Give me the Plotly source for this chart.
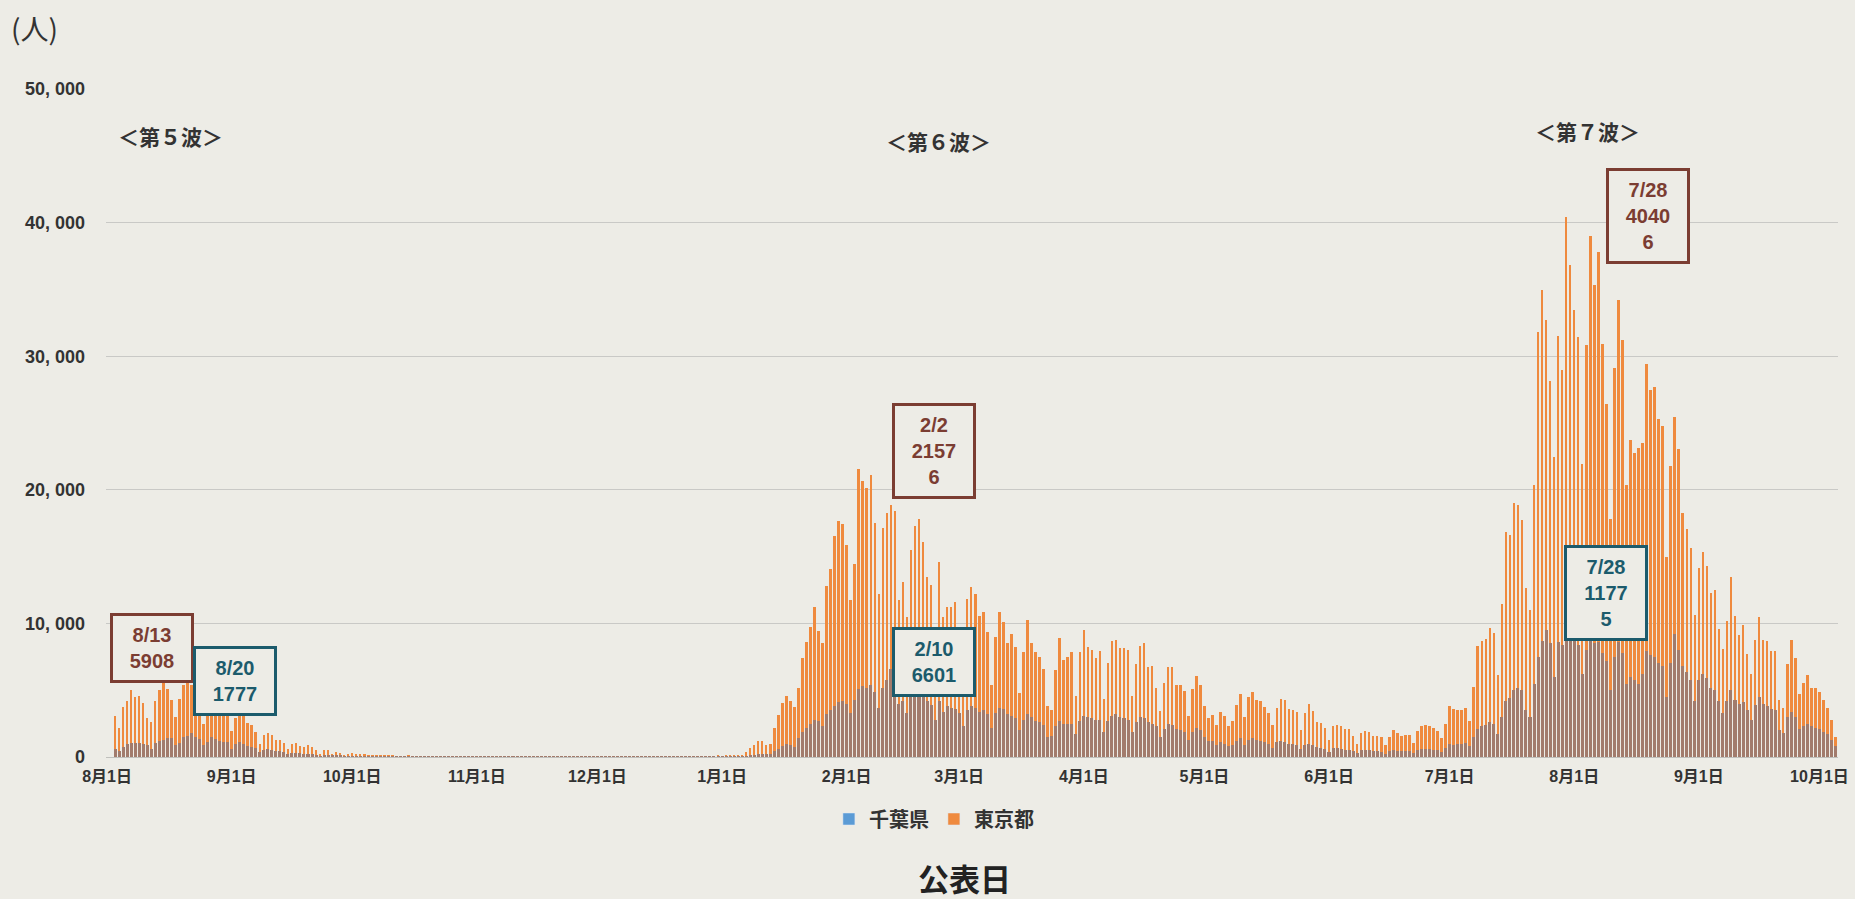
import datetime as dt
import plotly.graph_objects as go

# ---------------- data (daily announced cases) ----------------
start_date = "2021-08-01"

tokyo_2021_08 = [3058, 2195, 3709, 4166, 5042, 4515, 4566, 4066, 2884, 2612, 4200, 4989, 5908, 5094, 4295, 2962,
                 4377, 5386, 5534, 5405, 5074, 4392, 2447, 4220, 4228, 4704, 4227, 3581, 3081, 1915, 2909]
tokyo_2021_09 = [3168, 3099, 2539, 2362, 1853, 968, 1629, 1834, 1675, 1242, 1273, 1067, 611, 1004, 1052, 831,
                 782, 862, 717, 544, 253, 537, 531, 235, 383, 302, 154, 248, 267, 218]
tokyo_2021_10 = [200, 196, 161, 87, 149, 144, 138, 138, 82, 60, 49, 40, 77, 62, 72, 66, 40, 29, 36, 41, 36, 26,
                 32, 19, 17, 29, 36, 21, 30, 23, 22]
tokyo_2021_11 = [9, 29, 18, 17, 25, 24, 14, 7, 19, 20, 31, 21, 21, 21, 6, 11, 24, 19, 20, 23, 11, 8, 9, 14, 21,
                 14, 16, 20, 11, 9]
tokyo_2021_12 = [14, 16, 15, 26, 16, 13, 17, 18, 17, 20, 23, 24, 16, 19, 16, 17, 21, 29, 22, 15, 26, 27, 37, 42,
                 37, 37, 30, 46, 76, 64, 78]
tokyo_2022_01 = [79, 84, 103, 151, 390, 641, 922, 1224, 1223, 871, 962, 2198, 3124, 4051, 4561, 4172, 3719, 5185,
                 7377, 8638, 9699, 11227, 9468, 8503, 12813, 14086, 16538, 17631, 17433, 15895, 11751]
tokyo_2022_02 = [14445, 21576, 20679, 20106, 21122, 17526, 12214, 17113, 18287, 18891, 18400, 11750, 13075, 10450,
                 15500, 17325, 17825, 16075, 13500, 12900, 8500, 14575, 10500, 11200, 11200, 11575, 9000, 6000]
tokyo_2022_03 = [11825, 12700, 12200, 10575, 10825, 9325, 5375, 8950, 10875, 10075, 8525, 9200, 8200, 4825, 7875,
                 10250, 8500, 7825, 7450, 6575, 3825, 3500, 6500, 8900, 7275, 7450, 7875, 4575, 7875, 9525, 8200]
tokyo_2022_04 = [8025, 7375, 7900, 4325, 7000, 8700, 8750, 8125, 8125, 8025, 4575, 6950, 8275, 8550, 6750, 6775,
                 5200, 3450, 5575, 6750, 6700, 5400, 5375, 4950, 3075, 5075, 6075, 5375, 3825, 2950]
tokyo_2022_05 = [3160, 2400, 3360, 3040, 2320, 2690, 3860, 4730, 2990, 4480, 4860, 4280, 4160, 3780, 3310, 2370,
                 3690, 4360, 4230, 3610, 3490, 3340, 2040, 3290, 3980, 3410, 2610, 2540, 2170, 1290, 2340]
tokyo_2022_06 = [2420, 2340, 2070, 2070, 1570, 1000, 1790, 1920, 1840, 1540, 1540, 1490, 920, 1490, 1990, 1790,
                 1540, 1670, 1620, 1050, 1940, 2290, 2420, 2290, 2170, 1940, 1440, 2490, 3810, 3610]
tokyo_2022_07 = [3520, 3510, 3700, 2680, 5240, 8300, 8650, 8840, 9650, 9300, 6140, 11460, 16870, 16600, 19030,
                 18840, 17760, 12620, 11000, 20380, 31810, 34980, 32680, 28110, 22430, 31540, 28980, 40406, 36810,
                 33440, 31460]
tokyo_2022_08 = [21950, 30810, 38980, 35330, 37810, 30920, 26410, 17810, 29110, 34170, 31190, 20330, 23730, 22760,
                 23100, 23520, 29380, 27440, 27680, 25330, 24790, 14970, 21760, 25460, 23080, 18300, 17080, 15680,
                 10650, 14110, 15330]
tokyo_2022_09 = [14330, 12300, 12490, 9570, 8080, 10190, 13490, 10540, 9110, 9870, 7680, 6220, 8760, 10510, 8760,
                 8650, 7950, 7950, 4300, 3700, 6950, 8760, 7430, 4730, 5510, 6140, 5140, 5190, 4870, 4240]
tokyo_2022_10 = [3700, 2760, 1460]

chiba_2021_08 = [576, 462, 781, 1000, 1013, 1043, 1065, 1002, 897, 595, 1067, 1188, 1263, 1450, 1418, 930, 1027,
                 1460, 1573, 1777, 1498, 1359, 920, 1115, 1475, 1328, 1230, 1143, 1094, 622, 984]
chiba_2021_09 = [1097, 1000, 858, 766, 658, 364, 560, 588, 560, 452, 452, 380, 233, 275, 313, 281, 238, 225, 195,
                 137, 70, 141, 138, 79, 99, 83, 38, 64, 56, 49]
chiba_2021_10 = [45, 41, 30, 16, 35, 30, 29, 24, 22, 17, 12, 10, 15, 13, 14, 11, 9, 6, 8, 9, 7, 5, 6, 4, 3, 6, 7,
                 4, 6, 5, 4]
chiba_2021_11 = [2, 5, 3, 3, 4, 4, 2, 1, 3, 3, 5, 3, 3, 3, 1, 2, 4, 3, 3, 4, 2, 1, 2, 2, 3, 2, 3, 3, 2, 1]
chiba_2021_12 = [2, 3, 2, 4, 3, 2, 3, 3, 3, 4, 4, 4, 3, 3, 3, 3, 4, 5, 4, 3, 5, 5, 6, 7, 6, 6, 5, 8, 12, 11, 13]
chiba_2022_01 = [14, 15, 18, 26, 52, 97, 150, 230, 260, 200, 250, 480, 620, 800, 950, 900, 780, 1400, 1900, 2200,
                 2500, 2800, 2700, 2300, 3200, 3500, 3800, 4100, 4200, 4000, 3300]
chiba_2022_02 = [4300, 5100, 5300, 5200, 5400, 4900, 3700, 5200, 5800, 6601, 5600, 4000, 4200, 3300, 4600, 5000,
                 4900, 4600, 4200, 3900, 2800, 4200, 3400, 3800, 3700, 3600, 3300, 2300]
chiba_2022_03 = [3500, 3800, 3700, 3400, 3500, 3200, 2200, 3300, 3700, 3600, 3200, 3100, 2900, 2000, 2800, 3200,
                 3000, 2700, 2600, 2400, 1500, 1600, 2300, 2700, 2500, 2500, 2500, 1700, 2700, 3100, 3000]
chiba_2022_04 = [2900, 2800, 2800, 1900, 2700, 3100, 3200, 3000, 2900, 2800, 1900, 2600, 3000, 2900, 2600, 2500,
                 2300, 1500, 2100, 2500, 2400, 2100, 2000, 1900, 1300, 1900, 2200, 2000, 1500, 1200]
chiba_2022_05 = [1200, 900, 1100, 1000, 800, 900, 1200, 1400, 900, 1300, 1400, 1300, 1200, 1100, 1000, 700, 1100,
                 1200, 1100, 1000, 950, 900, 600, 900, 1000, 900, 750, 700, 600, 400, 650]
chiba_2022_06 = [650, 620, 560, 550, 450, 300, 500, 520, 500, 430, 420, 400, 260, 420, 520, 480, 430, 450, 430,
                 300, 520, 600, 630, 600, 560, 500, 380, 650, 950, 920]
chiba_2022_07 = [950, 1000, 1050, 800, 1500, 2100, 2300, 2400, 2600, 2500, 1700, 3000, 4200, 4400, 5000, 5200,
                 5000, 3500, 3000, 5500, 7500, 8700, 9500, 8500, 6000, 8600, 8400, 11775, 9300, 8800, 8400]
chiba_2022_08 = [6200, 8000, 9000, 8500, 8600, 7800, 7200, 5000, 7500, 8600, 7800, 5500, 6000, 5800, 5500, 6200,
                 7900, 7600, 7500, 7000, 6800, 4500, 7000, 9200, 8000, 6800, 6400, 5800, 4200, 5800, 6200]
chiba_2022_09 = [5900, 5200, 5000, 4200, 3300, 4200, 5000, 4300, 4000, 4100, 3500, 2800, 3900, 4500, 4000, 3800,
                 3600, 3500, 2000, 1800, 3000, 3400, 3000, 2100, 2300, 2500, 2300, 2200, 2100, 1900]
chiba_2022_10 = [1700, 1300, 800]

tokyo = (tokyo_2021_08 + tokyo_2021_09 + tokyo_2021_10 + tokyo_2021_11 + tokyo_2021_12 + tokyo_2022_01 +
         tokyo_2022_02 + tokyo_2022_03 + tokyo_2022_04 + tokyo_2022_05 + tokyo_2022_06 + tokyo_2022_07 +
         tokyo_2022_08 + tokyo_2022_09 + tokyo_2022_10)
chiba = (chiba_2021_08 + chiba_2021_09 + chiba_2021_10 + chiba_2021_11 + chiba_2021_12 + chiba_2022_01 +
         chiba_2022_02 + chiba_2022_03 + chiba_2022_04 + chiba_2022_05 + chiba_2022_06 + chiba_2022_07 +
         chiba_2022_08 + chiba_2022_09 + chiba_2022_10)

d0 = dt.date.fromisoformat(start_date)
dates = [(d0 + dt.timedelta(days=i)).isoformat() for i in range(len(tokyo))]

month_tick_dates = ["2021-08-01", "2021-09-01", "2021-10-01", "2021-11-01", "2021-12-01", "2022-01-01",
                    "2022-02-01", "2022-03-01", "2022-04-01", "2022-05-01", "2022-06-01", "2022-07-01",
                    "2022-08-01", "2022-09-01", "2022-10-01"]
month_tick_labels = ["8月1日", "9月1日", "10月1日", "11月1日", "12月1日", "1月1日", "2月1日", "3月1日", "4月1日",
                     "5月1日", "6月1日", "7月1日", "8月1日", "9月1日", "10月1日"]
y_tick_values = [0, 10000, 20000, 30000, 40000, 50000]
y_tick_labels = ["0", "10, 000", "20, 000", "30, 000", "40, 000", "50, 000"]

# peak call-outs: (text lines, paper x, paper y, series)
callouts = [
    (["8/13", "5908"], 0.0268, 0.1639, "tokyo"),
    (["8/20", "1777"], 0.0745, 0.1145, "chiba"),
    (["2/2", "2157", "6"], 0.4783, 0.4588, "tokyo"),
    (["2/10", "6601"], 0.4778, 0.1415, "chiba"),
    (["7/28", "4040", "6"], 0.8903, 0.8099, "tokyo"),
    (["7/28", "1177", "5"], 0.8663, 0.2448, "chiba"),
]
wave_labels = [("＜第５波＞", 0.0375, 0.9296), ("＜第６波＞", 0.4809, 0.9222), ("＜第７波＞", 0.8551, 0.9371)]

# ---------------- styling ----------------
PAPER = "#edece6"
ORANGE = "#ef8a3e"
BLUE = "#5b9bd5"
CHIBA_FILL = "#a27b6c"
BROWN = "#7b3d32"
TEAL = "#1c5b6c"
NUM_FONT = "Liberation Sans, Arial, Noto Sans CJK JP"
CJK_FONT = "Noto Sans CJK JP"
DAY_MS = 86400000

fig = go.Figure()
fig.add_trace(go.Bar(x=dates, y=tokyo, name="東京都", marker=dict(color=ORANGE, line=dict(width=0)),
                     width=[DAY_MS * 0.62] * len(dates), showlegend=False))
fig.add_trace(go.Bar(x=dates, y=chiba, name="千葉県", marker=dict(color=CHIBA_FILL, line=dict(width=0)),
                     width=[DAY_MS * 0.75] * len(dates), showlegend=False))
# legend entries
fig.add_trace(go.Bar(x=[None], y=[None], name="千葉県", marker=dict(color=BLUE), showlegend=True))
fig.add_trace(go.Bar(x=[None], y=[None], name="東京都", marker=dict(color=ORANGE), showlegend=True))

annotations = []
for lines, ax, ay, series in callouts:
    col = BROWN if series == "tokyo" else TEAL
    h = 64 if len(lines) == 2 else 90
    annotations.append(dict(
        xref="paper", yref="paper", x=ax, y=ay, xanchor="center", yanchor="middle", showarrow=False,
        text="<br>".join(lines), align="center", width=78, height=h, valign="middle",
        font=dict(family=NUM_FONT, size=20, color=col, weight="bold"),
        bgcolor=PAPER, bordercolor=col, borderwidth=3, borderpad=0))
for txt, ax, ay in wave_labels:
    annotations.append(dict(xref="paper", yref="paper", x=ax, y=ay, xanchor="center", yanchor="middle",
                            showarrow=False, text=txt,
                            font=dict(family=CJK_FONT, size=21, color="#333333", weight="bold")))
annotations.append(dict(xref="paper", yref="paper", x=-0.0410, y=1.0913, xanchor="center", yanchor="middle",
                        showarrow=False, text="(人)",
                        font=dict(family=CJK_FONT, size=28, color="#333333")))
annotations.append(dict(xref="paper", yref="paper", x=0.4954, y=-0.1811, xanchor="center", yanchor="middle",
                        showarrow=False, text="公表日",
                        font=dict(family=CJK_FONT, size=31, color="#222222", weight="bold")))

fig.update_layout(
    width=1855, height=899,
    margin=dict(l=106, r=17, t=89, b=142, autoexpand=False),
    paper_bgcolor=PAPER, plot_bgcolor=PAPER,
    barmode="overlay", bargap=0,
    showlegend=True,
    legend=dict(orientation="h", x=0.4780, y=-0.0928, xanchor="center", yanchor="middle",
                font=dict(family=CJK_FONT, size=20, color="#333333", weight="bold"),
                itemwidth=30, bgcolor="rgba(0,0,0,0)", traceorder="normal"),
    annotations=annotations,
    xaxis=dict(type="date", range=["2021-07-29T18:00:00", "2022-10-03T15:00:00"], automargin=False,
               tickvals=month_tick_dates, ticktext=month_tick_labels, tickangle=0,
               showgrid=False, zeroline=False, showline=False, ticks="",
               ticklabelstandoff=8, ticklabelshift=-8, ticklabeloverflow="allow",
               tickfont=dict(family=NUM_FONT, size=16, color="#333333", weight="bold")),
    yaxis=dict(range=[0, 50000], tickvals=y_tick_values, ticktext=y_tick_labels, automargin=False,
               showgrid=True, gridcolor="#c9c9c6", gridwidth=1.3, zeroline=True, zerolinecolor="#c0c0bc",
               zerolinewidth=1.3, showline=False, ticks="", ticklabelstandoff=20,
               tickfont=dict(family=NUM_FONT, size=18, color="#333333", weight="bold")),
)

fig.write_html("out.html", config={"displayModeBar": False},
               post_script="document.body.style.margin='0';document.body.style.overflow='hidden';")
